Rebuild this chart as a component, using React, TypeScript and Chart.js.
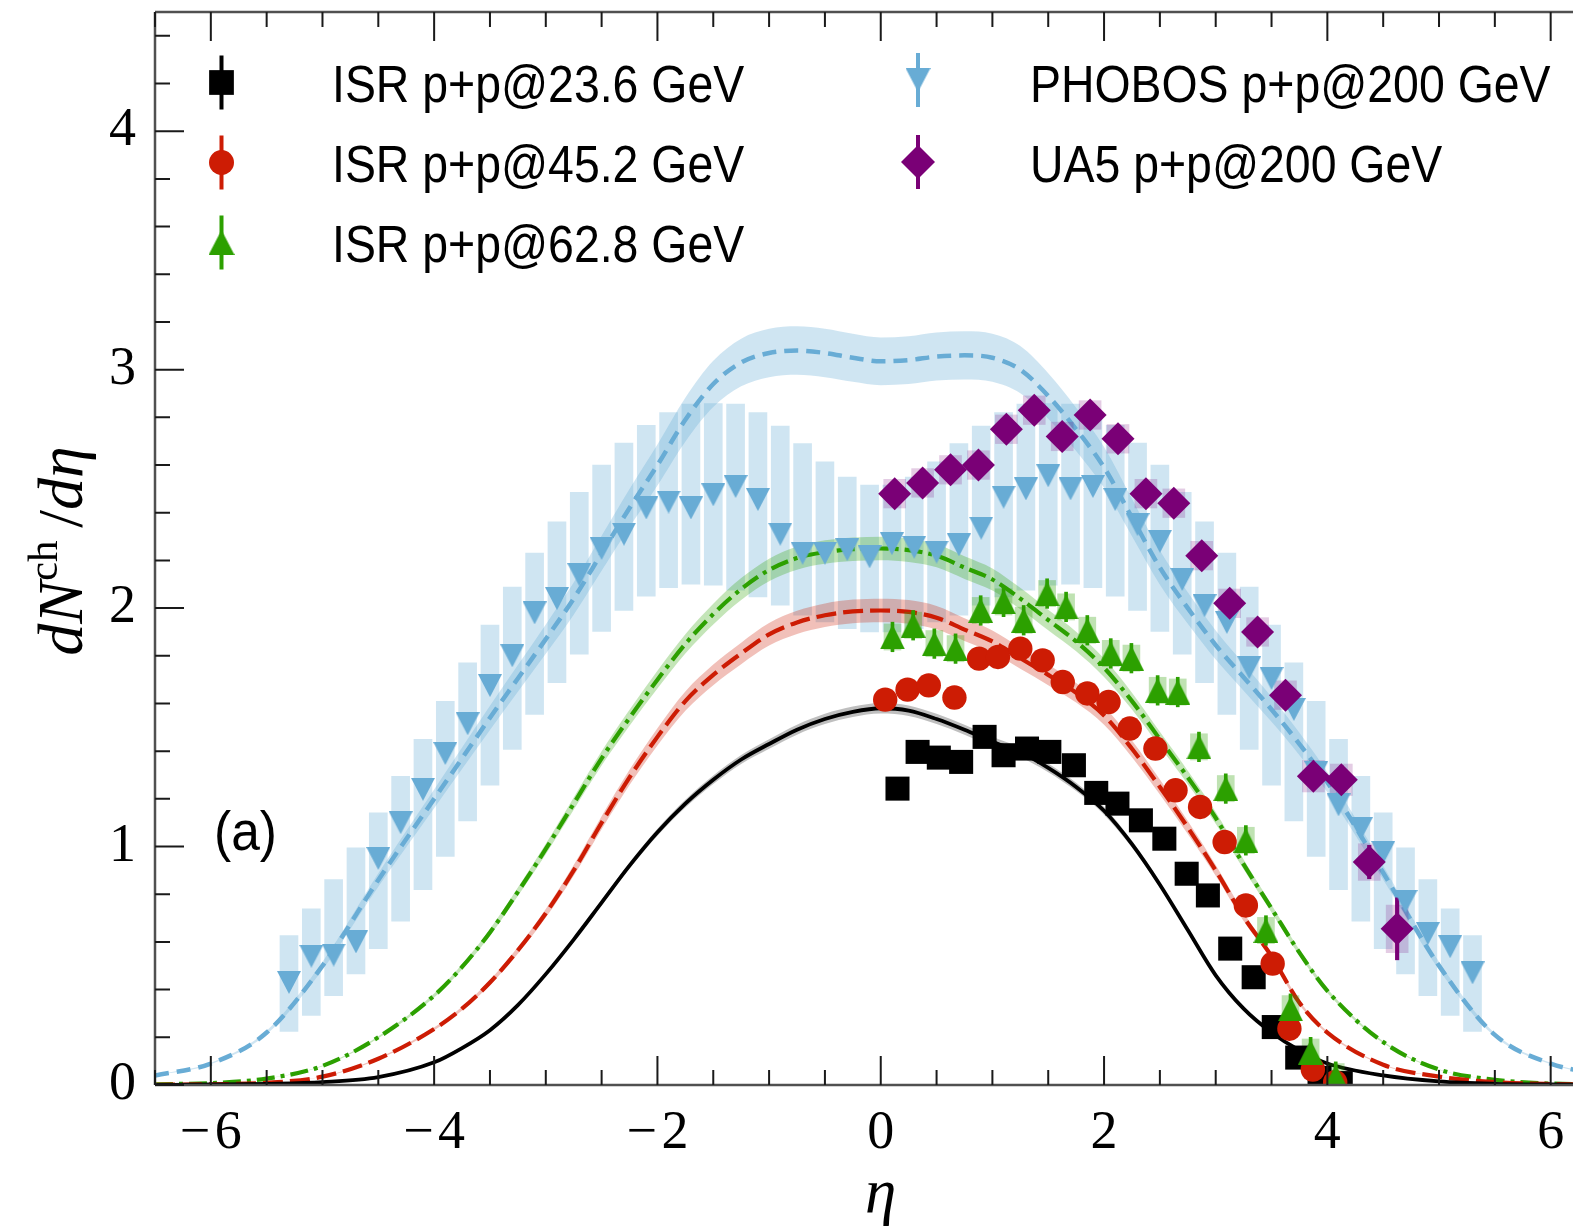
import React, { useEffect, useRef } from 'react';
import { Chart, registerables } from 'chart.js';

Chart.register(...registerables);

const W = 1573;
const H = 1228;

// ---------------- data ----------------
// PHOBOS p+p @ 200 GeV
const phobosEta = [-5.3, -5.1, -4.9, -4.7, -4.5, -4.3, -4.1, -3.9, -3.7, -3.5, -3.3, -3.1, -2.9, -2.7, -2.5, -2.3, -2.1, -1.9, -1.7, -1.5, -1.3, -1.1, -0.9, -0.7, -0.5, -0.3, -0.1, 0.1, 0.3, 0.5, 0.7, 0.9, 1.1, 1.3, 1.5, 1.7, 1.9, 2.1, 2.3, 2.5, 2.7, 2.9, 3.1, 3.3, 3.5, 3.7, 3.9, 4.1, 4.3, 4.5, 4.7, 4.9, 5.1, 5.3];
const phobosVal = [0.43, 0.54, 0.545, 0.6, 0.95, 1.1, 1.24, 1.39, 1.515, 1.675, 1.8, 1.98, 2.04, 2.14, 2.25, 2.31, 2.42, 2.445, 2.42, 2.475, 2.51, 2.455, 2.31, 2.23, 2.23, 2.245, 2.215, 2.27, 2.255, 2.235, 2.265, 2.335, 2.465, 2.5, 2.555, 2.5, 2.51, 2.455, 2.35, 2.28, 2.12, 2.01, 1.94, 1.75, 1.705, 1.575, 1.31, 1.175, 1.075, 0.975, 0.77, 0.635, 0.58, 0.47];
const phobosSysLow = [0.225, 0.292, 0.375, 0.466, 0.572, 0.687, 0.819, 0.959, 1.108, 1.257, 1.407, 1.554, 1.687, 1.807, 1.902, 1.99, 2.05, 2.086, 2.1, 2.096, 2.075, 2.047, 2.012, 1.97, 1.942, 1.914, 1.9, 1.9, 1.914, 1.942, 1.97, 2.012, 2.047, 2.075, 2.096, 2.1, 2.086, 2.05, 1.99, 1.902, 1.807, 1.687, 1.554, 1.407, 1.257, 1.108, 0.959, 0.819, 0.687, 0.572, 0.466, 0.375, 0.292, 0.225];
const phobosSysHigh = [0.627, 0.739, 0.862, 0.995, 1.141, 1.295, 1.45, 1.609, 1.77, 1.929, 2.088, 2.231, 2.362, 2.486, 2.6, 2.692, 2.767, 2.82, 2.856, 2.858, 2.856, 2.82, 2.763, 2.69, 2.614, 2.55, 2.516, 2.516, 2.55, 2.614, 2.69, 2.763, 2.82, 2.856, 2.858, 2.856, 2.82, 2.767, 2.692, 2.6, 2.486, 2.362, 2.231, 2.088, 1.929, 1.77, 1.609, 1.45, 1.295, 1.141, 0.995, 0.862, 0.739, 0.627];

// UA5 p+p @ 200 GeV
const ua5Eta = [0.125, 0.375, 0.625, 0.875, 1.125, 1.375, 1.625, 1.875, 2.125, 2.375, 2.625, 2.875, 3.125, 3.375, 3.625, 3.875, 4.125, 4.375, 4.625];
const ua5Val = [2.48, 2.525, 2.58, 2.6, 2.75, 2.83, 2.72, 2.81, 2.71, 2.48, 2.44, 2.22, 2.02, 1.9, 1.635, 1.295, 1.28, 0.935, 0.655];
const ua5Stat = [0.03, 0.03, 0.03, 0.03, 0.03, 0.03, 0.03, 0.03, 0.03, 0.03, 0.03, 0.03, 0.04, 0.04, 0.05, 0.05, 0.06, 0.07, 0.13];
const ua5Sys = [0.06, 0.06, 0.06, 0.06, 0.06, 0.06, 0.06, 0.06, 0.06, 0.06, 0.06, 0.06, 0.06, 0.06, 0.06, 0.066, 0.066, 0.077, 0.1];

// ISR p+p @ 23.6 GeV
const isr236Eta = [0.15, 0.33, 0.52, 0.72, 0.93, 1.1, 1.31, 1.51, 1.73, 1.93, 2.12, 2.33, 2.54, 2.74, 2.93, 3.13, 3.34, 3.52, 3.73, 3.93, 4.12];
const isr236Val = [1.243, 1.397, 1.373, 1.355, 1.46, 1.383, 1.411, 1.397, 1.341, 1.225, 1.18, 1.11, 1.033, 0.886, 0.795, 0.572, 0.452, 0.243, 0.115, 0.03, 0.008];

// ISR p+p @ 45.2 GeV
const isr452Eta = [0.04, 0.24, 0.43, 0.66, 0.88, 1.05, 1.25, 1.45, 1.63, 1.85, 2.04, 2.23, 2.46, 2.64, 2.86, 3.08, 3.27, 3.51, 3.66, 3.87, 4.07];
const isr452Val = [1.616, 1.658, 1.676, 1.625, 1.788, 1.795, 1.83, 1.781, 1.69, 1.642, 1.606, 1.495, 1.411, 1.236, 1.166, 1.019, 0.753, 0.509, 0.236, 0.065, 0.012];

// ISR p+p @ 62.8 GeV
const isr628Eta = [0.105, 0.29, 0.48, 0.67, 0.895, 1.1, 1.28, 1.49, 1.66, 1.85, 2.06, 2.245, 2.48, 2.66, 2.85, 3.09, 3.27, 3.45, 3.67, 3.85, 4.075];
const isr628Val = [1.879, 1.928, 1.851, 1.83, 1.99, 2.026, 1.949, 2.061, 2.005, 1.907, 1.81, 1.79, 1.655, 1.648, 1.418, 1.243, 1.026, 0.648, 0.32, 0.138, 0.035];
const isr628Stat = 0.062;
const isr628Sys = 0.055;

// Model curves
const modelEta = [-6.5, -6.0, -5.5, -5.0, -4.5, -4.0, -3.75, -3.5, -3.25, -3.0, -2.75, -2.5, -2.25, -2.0, -1.75, -1.5, -1.25, -1.0, -0.75, -0.5, -0.25, 0, 0.25, 0.5, 0.75, 1.0, 1.25, 1.5, 1.75, 2.0, 2.25, 2.5, 2.75, 3.0, 3.25, 3.5, 3.75, 4.0, 4.5, 5.0, 5.5, 6.0, 6.5];
const model200 = [0.04, 0.09, 0.22, 0.5, 0.86, 1.2, 1.37, 1.54, 1.705, 1.87, 2.04, 2.23, 2.42, 2.6, 2.79, 2.94, 3.03, 3.07, 3.08, 3.07, 3.05, 3.035, 3.04, 3.055, 3.06, 3.05, 3.0, 2.89, 2.75, 2.59, 2.38, 2.17, 2.0, 1.845, 1.71, 1.575, 1.43, 1.27, 0.89, 0.5, 0.21, 0.09, 0.04];
const model628 = [0.003, 0.008, 0.027, 0.08, 0.2, 0.375, 0.495, 0.64, 0.81, 0.99, 1.18, 1.37, 1.54, 1.7, 1.85, 1.975, 2.08, 2.16, 2.21, 2.235, 2.247, 2.25, 2.243, 2.22, 2.17, 2.12, 2.04, 1.95, 1.86, 1.75, 1.61, 1.45, 1.29, 1.12, 0.925, 0.74, 0.555, 0.395, 0.18, 0.065, 0.022, 0.006, 0.003];
const model452 = [0.001, 0.003, 0.009, 0.035, 0.11, 0.235, 0.32, 0.43, 0.565, 0.72, 0.9, 1.1, 1.29, 1.46, 1.61, 1.72, 1.81, 1.89, 1.94, 1.97, 1.986, 1.99, 1.984, 1.96, 1.91, 1.86, 1.79, 1.72, 1.645, 1.55, 1.41, 1.25, 1.08, 0.9, 0.705, 0.54, 0.345, 0.22, 0.085, 0.035, 0.012, 0.004, 0.002];
const model236 = [0.0, 0.002, 0.005, 0.012, 0.033, 0.095, 0.155, 0.23, 0.335, 0.465, 0.61, 0.765, 0.92, 1.06, 1.18, 1.28, 1.365, 1.43, 1.49, 1.535, 1.565, 1.58, 1.57, 1.535, 1.49, 1.44, 1.395, 1.33, 1.25, 1.15, 1.01, 0.84, 0.65, 0.46, 0.32, 0.22, 0.145, 0.09, 0.04, 0.015, 0.005, 0.002, 0.001];
// relative half-widths of the model uncertainty bands
const band200 = 0.033;
const band628 = 0.022;
const band452 = 0.025;
const band236 = 0.014;

const xTicks = [-6, -4, -2, 0, 2, 4, 6];
const yTicks = [0, 1, 2, 3, 4];

const legendLabels = [
  'ISR p+p@23.6 GeV',
  'ISR p+p@45.2 GeV',
  'ISR p+p@62.8 GeV',
  'PHOBOS p+p@200 GeV',
  'UA5 p+p@200 GeV',
];

// ---------------- colours ----------------
const C_BLACK = '#000000';
const C_RED = 'rgb(205,28,4)';
const C_GREEN = 'rgb(44,160,0)';
const C_BLUE = 'rgb(104,172,213)';
const C_PURPLE = 'rgb(122,0,118)';

const SERIF = '"Liberation Serif", "DejaVu Serif", serif';
const SANS = '"Liberation Sans", Arial, sans-serif';

function pts(xs: number[], ys: number[]) {
  return xs.map((x, i) => ({ x, y: ys[i] }));
}
function bandPts(xs: number[], ys: number[], rel: number, sign: number) {
  return xs.map((x, i) => ({ x, y: ys[i] * (1 + sign * rel) }));
}
function rangePts(xs: number[], lo: number[], hi: number[]) {
  return xs.map((x, i) => ({ x, y: [lo[i], hi[i]] }));
}
function errPts(xs: number[], ys: number[], err: number[] | number) {
  return xs.map((x, i) => {
    const e = Array.isArray(err) ? err[i] : err;
    return { x, y: [ys[i] - e, ys[i] + e] };
  });
}

function makeTriangle(w: number, h: number, color: string, down: boolean) {
  const c = document.createElement('canvas');
  c.width = w;
  c.height = h;
  const g = c.getContext('2d')!;
  g.fillStyle = color;
  g.beginPath();
  if (down) {
    g.moveTo(0, 0);
    g.lineTo(w, 0);
    g.lineTo(w / 2, h);
  } else {
    g.moveTo(w / 2, 0);
    g.lineTo(w, h);
    g.lineTo(0, h);
  }
  g.closePath();
  g.fill();
  return c;
}

function drawMarker(ctx: CanvasRenderingContext2D, style: any, x: number, y: number, r: number, color: string) {
  if (typeof style !== 'string') {
    ctx.drawImage(style, x - style.width / 2, y - style.height / 2);
    return;
  }
  ctx.fillStyle = color;
  ctx.beginPath();
  if (style === 'rect') {
    const s = r * Math.SQRT1_2;
    ctx.rect(x - s, y - s, 2 * s, 2 * s);
  } else if (style === 'circle') {
    ctx.arc(x, y, r, 0, Math.PI * 2);
  } else if (style === 'diamond') {
    ctx.moveTo(x, y - r);
    ctx.lineTo(x + r, y);
    ctx.lineTo(x, y + r);
    ctx.lineTo(x - r, y);
    ctx.closePath();
  }
  ctx.fill();
}

function makeDecor(triUpL: HTMLCanvasElement, triDownL: HTMLCanvasElement) {
  return {
    id: 'decor',
    afterDraw(chart: any) {
      const { ctx, chartArea: a, scales } = chart;
      const xs = scales.x;
      const ys = scales.y;
      ctx.save();

      // spines
      ctx.strokeStyle = '#505050';
      ctx.lineWidth = 2.5;
      ctx.beginPath();
      ctx.moveTo(a.left, a.top);
      ctx.lineTo(a.right + 5, a.top);
      ctx.moveTo(a.left, a.top);
      ctx.lineTo(a.left, a.bottom);
      ctx.moveTo(a.left, a.bottom);
      ctx.lineTo(a.right + 5, a.bottom);
      ctx.stroke();

      // inward ticks
      ctx.strokeStyle = '#1a1a1a';
      ctx.lineWidth = 2;
      ctx.beginPath();
      for (let k = -13; k <= 12; k++) {
        const v = k * 0.5;
        if (v < -6.5 || v > 6.2) continue;
        const px = xs.getPixelForValue(v);
        const len = k % 4 === 0 ? 29 : 15;
        ctx.moveTo(px, a.bottom);
        ctx.lineTo(px, a.bottom - len);
        ctx.moveTo(px, a.top);
        ctx.lineTo(px, a.top + len);
      }
      for (let k = 0; k <= 22; k++) {
        const v = k * 0.2;
        const py = ys.getPixelForValue(v);
        const len = k % 5 === 0 ? 29 : 15;
        ctx.moveTo(a.left, py);
        ctx.lineTo(a.left + len, py);
      }
      ctx.stroke();

      // axis titles
      ctx.fillStyle = '#000';
      ctx.textBaseline = 'alphabetic';
      ctx.font = `italic 63px ${SERIF}`;
      ctx.textAlign = 'center';
      ctx.fillText('\u03B7', xs.getPixelForValue(0), 1212);

      // y title: dN^ch / dη (rotated)
      ctx.save();
      ctx.translate(82, 551);
      ctx.rotate(-Math.PI / 2);
      ctx.textAlign = 'left';
      const parts: [string, string, number][] = [
        ['dN', `italic 64px ${SERIF}`, 0],
        ['ch', `43px ${SERIF}`, -25],
        ['\u2009/', `64px ${SERIF}`, 0],
        ['d\u03B7', `italic 64px ${SERIF}`, 0],
      ];
      let total = 0;
      const widths: number[] = [];
      for (const [t, f] of parts) {
        ctx.font = f;
        const w = ctx.measureText(t).width;
        widths.push(w);
        total += w;
      }
      let cx = -total / 2;
      parts.forEach(([t, f, dy], i) => {
        ctx.font = f;
        ctx.fillText(t, cx, dy);
        cx += widths[i];
      });
      ctx.restore();

      // legend
      const items = [
        { style: 'rect', color: C_BLACK, r: 17.5, mx: 221.5, my: 82.5, tx: 332, ty: 101.5, label: legendLabels[0] },
        { style: 'circle', color: C_RED, r: 12.5, mx: 221.5, my: 162.5, tx: 332, ty: 182, label: legendLabels[1] },
        { style: triUpL, color: C_GREEN, r: 0, mx: 221.5, my: 242.5, tx: 332, ty: 262, label: legendLabels[2] },
        { style: triDownL, color: C_BLUE, r: 0, mx: 918, my: 80, tx: 1030, ty: 101.5, label: legendLabels[3] },
        { style: 'diamond', color: C_PURPLE, r: 17, mx: 918, my: 162, tx: 1030, ty: 182, label: legendLabels[4] },
      ];
      for (const it of items) {
        ctx.fillStyle = it.color;
        ctx.fillRect(it.mx - 2, it.my - 27, 4, 54);
        drawMarker(ctx, it.style, it.mx, it.my, it.r, it.color);
        ctx.save();
        ctx.translate(it.tx, it.ty);
        ctx.scale(0.91, 1);
        ctx.font = `51px ${SANS}`;
        ctx.fillStyle = '#000';
        ctx.textAlign = 'left';
        ctx.fillText(it.label, 0, 0);
        ctx.restore();
      }

      // panel label
      ctx.save();
      ctx.translate(214, 850);
      ctx.scale(0.92, 1);
      ctx.font = `56px ${SANS}`;
      ctx.fillStyle = '#000';
      ctx.textAlign = 'left';
      ctx.fillText('(a)', 0, 0);
      ctx.restore();

      ctx.restore();
    },
  };
}

export default function App() {
  const ref = useRef<HTMLCanvasElement | null>(null);

  useEffect(() => {
    const canvas = ref.current;
    if (!canvas) return;

    const triGreen = makeTriangle(25, 25, C_GREEN, false);
    const triBlue = makeTriangle(24, 23, C_BLUE, true);
    const triGreenL = makeTriangle(26, 25, C_GREEN, false);
    const triBlueL = makeTriangle(25, 24, C_BLUE, true);

    const lineCommon = {
      type: 'line',
      pointRadius: 0,
      pointHoverRadius: 0,
      cubicInterpolationMode: 'monotone',
      fill: false,
    };
    const bandUpper = (ys: number[], rel: number, order: number) => ({
      ...lineCommon,
      data: bandPts(modelEta, ys, rel, 1),
      borderWidth: 0,
      borderColor: 'rgba(0,0,0,0)',
      order,
    });
    const bandLower = (ys: number[], rel: number, color: string, order: number) => ({
      ...lineCommon,
      data: bandPts(modelEta, ys, rel, -1),
      borderWidth: 0,
      borderColor: 'rgba(0,0,0,0)',
      backgroundColor: color,
      fill: '-1',
      order,
    });
    const boxes = (data: any[], color: string, thickness: number, order: number) => ({
      type: 'bar',
      data,
      backgroundColor: color,
      borderWidth: 0,
      barThickness: thickness,
      grouped: false,
      order,
    });
    const markers = (data: any[], style: any, r: number, color: string, order: number) => ({
      type: 'line',
      data,
      showLine: false,
      pointStyle: style,
      pointRadius: r,
      pointHoverRadius: r,
      pointBackgroundColor: color,
      pointBorderColor: color,
      pointBorderWidth: 0,
      order,
    });

    const datasets: any[] = [
      // PHOBOS systematic boxes
      boxes(rangePts(phobosEta, phobosSysLow, phobosSysHigh), 'rgba(107,174,214,0.32)', 18, 100),
      // model bands
      bandUpper(model200, band200, 90),
      bandLower(model200, band200, 'rgba(107,174,214,0.32)', 90),
      bandUpper(model628, band628, 89),
      bandLower(model628, band628, 'rgba(44,160,0,0.28)', 89),
      bandUpper(model452, band452, 88),
      bandLower(model452, band452, 'rgba(205,28,4,0.28)', 88),
      bandUpper(model236, band236, 87),
      bandLower(model236, band236, 'rgba(0,0,0,0.25)', 87),
      // model lines
      { ...lineCommon, data: pts(modelEta, model200), borderColor: C_BLUE, borderWidth: 4.5, borderDash: [14, 8], order: 80 },
      { ...lineCommon, data: pts(modelEta, model628), borderColor: C_GREEN, borderWidth: 4.2, borderDash: [18, 6, 4, 6], order: 79 },
      { ...lineCommon, data: pts(modelEta, model452), borderColor: C_RED, borderWidth: 4.2, borderDash: [20, 7], order: 78 },
      { ...lineCommon, data: pts(modelEta, model236), borderColor: C_BLACK, borderWidth: 3.8, order: 77 },
      // systematic boxes for ISR 62.8 and UA5
      boxes(errPts(isr628Eta, isr628Val, isr628Sys), 'rgba(44,160,0,0.3)', 17, 60),
      boxes(errPts(ua5Eta, ua5Val, ua5Sys), 'rgba(122,0,118,0.2)', 22, 60),
      // statistical error bars
      boxes(errPts(isr628Eta, isr628Val, isr628Stat), C_GREEN, 3, 50),
      boxes(errPts(ua5Eta, ua5Val, ua5Stat), C_PURPLE, 3.5, 50),
      // data markers
      markers(pts(phobosEta, phobosVal), triBlue, 12, C_BLUE, 40),
      markers(pts(isr236Eta, isr236Val), 'rect', 17, C_BLACK, 30),
      markers(pts(isr452Eta, isr452Val), 'circle', 12.2, C_RED, 29),
      markers(pts(isr628Eta, isr628Val), triGreen, 12, C_GREEN, 28),
      markers(pts(ua5Eta, ua5Val), 'rectRot', 16.5, C_PURPLE, 20),
    ];

    const chart = new Chart(canvas, {
      type: 'line',
      data: { datasets },
      options: {
        responsive: false,
        animation: false,
        events: [],
        devicePixelRatio: 1,
        layout: { autoPadding: false, padding: { top: 12, left: 0, right: 0, bottom: 0 } },
        plugins: {
          legend: { display: false },
          tooltip: { enabled: false },
        },
        scales: {
          x: {
            type: 'linear',
            min: -6.5,
            max: 6.2,
            offset: false,
            grid: { display: false, drawTicks: false, offset: false },
            border: { display: false },
            afterBuildTicks: (s: any) => {
              s.ticks = xTicks.map((v) => ({ value: v }));
            },
            ticks: {
              autoSkip: false,
              maxRotation: 0,
              minRotation: 0,
              padding: 16,
              color: '#000',
              font: { family: SERIF, size: 54 },
              callback: (v: any) => (Number(v) < 0 ? '\u2212\u200A' + Math.abs(Number(v)) : String(v)),
            },
            afterFit: (s: any) => {
              s.height = H - 1085;
              s.paddingLeft = 0;
              s.paddingRight = 0;
            },
          },
          y: {
            type: 'linear',
            min: 0,
            max: 4.5,
            grid: { display: false, drawTicks: false },
            border: { display: false },
            afterBuildTicks: (s: any) => {
              s.ticks = yTicks.map((v) => ({ value: v }));
            },
            ticks: {
              autoSkip: false,
              padding: 19,
              color: '#000',
              font: { family: SERIF, size: 54 },
              callback: (v: any) => String(v),
            },
            afterFit: (s: any) => {
              s.width = 155;
              s.paddingTop = 0;
              s.paddingBottom = 0;
            },
          },
        },
      } as any,
      plugins: [makeDecor(triGreenL, triBlueL)],
    } as any);

    return () => chart.destroy();
  }, []);

  return (
    <div style={{ position: 'fixed', left: 0, top: 0, width: W, height: H, background: '#fff' }}>
      <canvas ref={ref} width={W} height={H} style={{ display: 'block', width: W, height: H }} />
    </div>
  );
}
